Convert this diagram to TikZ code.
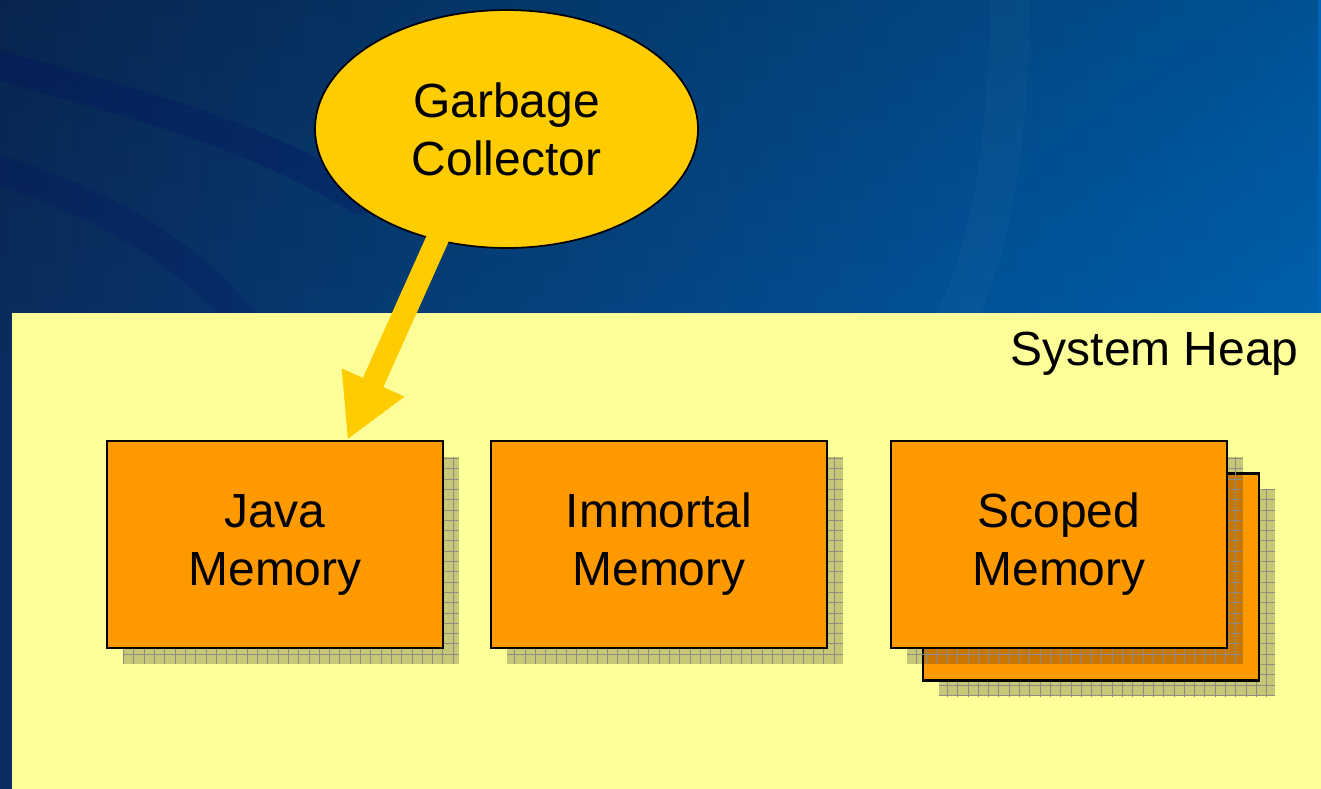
\documentclass[tikz,border=0pt]{standalone}
\usepackage{fontspec}
\setmainfont{Liberation Sans}
\usetikzlibrary{arrows.meta,shapes.geometric,fadings,calc,shadows,patterns.meta}
\definecolor{heapyellow}{HTML}{FFFF99}
\definecolor{memorange}{HTML}{FF9900}
\definecolor{gcyellow}{HTML}{FFCC00}
\definecolor{bgleft}{HTML}{0A2E60}
\definecolor{bgright}{HTML}{0064B4}
\definecolor{gridgray}{HTML}{8C8C84}
\newcommand\bodyfont{\fontsize{27.3pt}{33pt}\selectfont}
\tikzset{
  memshadow/.style={general shadow={fill=black, fill opacity=0.22, shadow xshift=0.32cm, shadow yshift=-0.32cm},
                    general shadow={pattern={Hatch[distance=0.206cm, angle=0, line width=0.45pt]}, pattern color=gridgray, shadow xshift=0.32cm, shadow yshift=-0.32cm}},
  membox/.style={memshadow, draw=black, line width=1.2pt, fill=memorange, minimum width=6.72cm, minimum height=4.14cm,
                 font=\bodyfont, align=center, inner sep=0pt},
  gcnode/.style={ellipse, draw=black, line width=1pt, fill=gcyellow, minimum width=7.66cm, minimum height=4.76cm,
                 font=\bodyfont, align=center, inner sep=0pt},
  gcarrow/.style={draw=gcyellow, line width=0.45cm, shorten <=-0.15cm, -{Triangle[length=1.26cm, width=1.28cm]}},
  swirl/.style={line cap=round, line width=0.6cm},
  labeltext/.style={font=\bodyfont, inner sep=0pt}
}
\begin{document}
\begin{tikzpicture}[x=0.02cm, y=-0.02cm]
\useasboundingbox (0,0) rectangle (1321,788);
\clip (0,0) rectangle (1321,788);
% background
\shade[left color=bgleft, right color=bgright] (0,0) rectangle (1321,788);
\fill[black, opacity=0.18, path fading=south] (0,0) rectangle (1321,400);
\draw[swirl, black!60!blue, opacity=0.18] (-20,60) .. controls (120,100) and (250,130) .. (360,200);
\draw[swirl, black!60!blue, opacity=0.15] (-20,165) .. controls (90,195) and (190,250) .. (250,330);
\draw[swirl, white, opacity=0.025, line width=0.8cm] (1010,-20) .. controls (1010,100) and (1000,240) .. (950,330);
% system heap
\fill[heapyellow] (12,313) rectangle (1330,800);
\node[labeltext, anchor=east] (heap) at (1299,354) {System Heap};
% memory boxes
\node[membox] (java) at (275,544.5) {Java\\Memory};
\node[membox] (immortal) at (659,544.5) {Immortal\\Memory};
\node[membox] (scopedback) at (1091,577) {};
\node[membox] (scoped) at (1059,544.5) {Scoped\\Memory};
% garbage collector
\node[gcnode] (gc) at (506.5,129) {Garbage\\Collector};
\coordinate (tip) at ($(java.north west)!0.714!(java.north east)$);
\draw[gcarrow] (gc.238) -- (tip);
\end{tikzpicture}
\end{document}
